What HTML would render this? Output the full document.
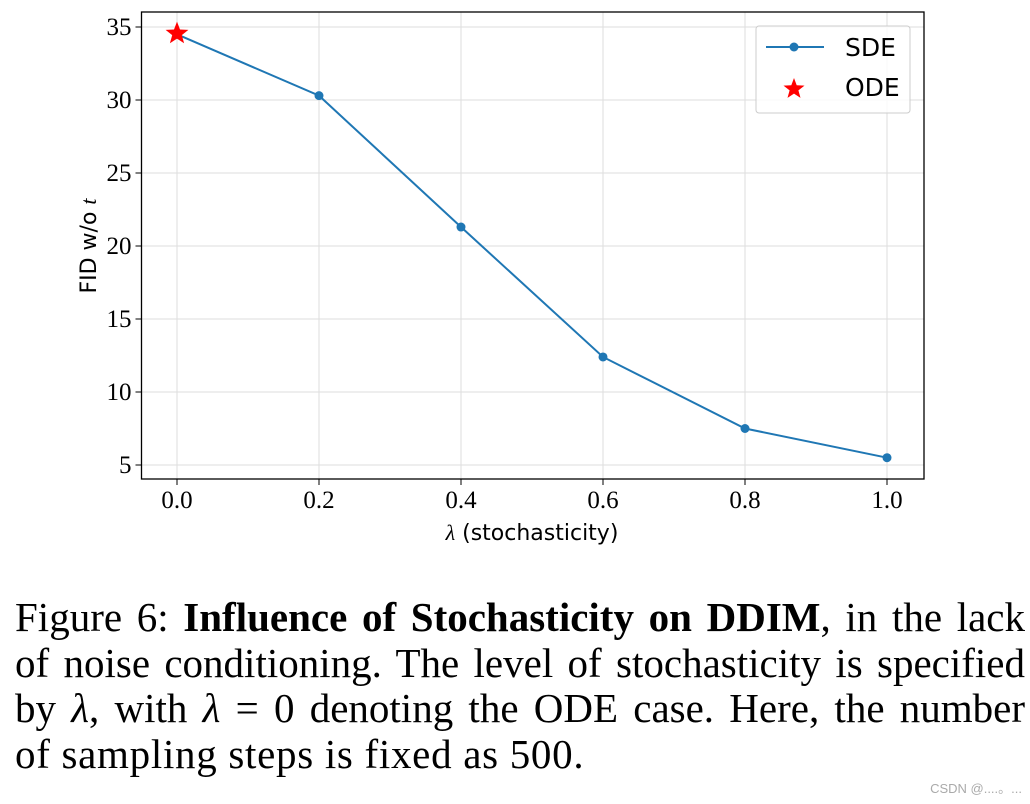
<!DOCTYPE html>
<html><head><meta charset="utf-8"><style>
body{margin:0;background:#fff;width:1030px;height:804px;overflow:hidden;position:relative}
#cap{position:absolute;left:15px;top:595px;width:1010px;font-family:"Liberation Serif",serif;font-size:41px;line-height:45.5px;color:#000}
#cap div{white-space:nowrap}
#cap .j{text-align:justify;text-align-last:justify}
#cap .last{letter-spacing:0.7px}
#wm{position:absolute;right:8px;top:778px;font-family:"Liberation Sans",sans-serif;font-size:13px;color:#aaa}
</style></head><body>
<svg width="1030" height="580" style="position:absolute;left:0;top:0">
<g id="grid"></g><g id="axes"></g><g id="series"></g>
<g>
<rect x="756" y="26" width="154" height="87" rx="3" fill="#fff" fill-opacity="0.85" stroke="#ccc"/>
<line x1="766" y1="47" x2="824" y2="47" stroke="#1f77b4" stroke-width="2"/>
<circle cx="794" cy="47" r="4.5" fill="#1f77b4"/>
<text x="845" y="56" font-family="DejaVu Sans,sans-serif" font-size="25">SDE</text>
<polygon id="lstar" fill="#f00"/>
<text x="845" y="96" font-family="DejaVu Sans,sans-serif" font-size="25">ODE</text>
</g>
<text transform="translate(96,246) rotate(-90)" text-anchor="middle" font-family="DejaVu Sans,sans-serif" font-size="22">FID w/o <tspan font-family="Liberation Serif,serif" font-style="italic">t</tspan></text>
<text x="532" y="540" text-anchor="middle" font-family="DejaVu Sans,sans-serif" font-size="22"><tspan font-family="Liberation Serif,serif" font-style="italic">λ</tspan> (stochasticity)</text>
</svg>
<div id="cap">
<div class="j">Figure 6: <b>Influence of Stochasticity on DDIM</b>, in the lack</div>
<div class="j">of noise conditioning. The level of stochasticity is specified</div>
<div class="j">by <i>λ</i>, with <i>λ</i> = 0 denoting the ODE case. Here, the number</div>
<div class="last">of sampling steps is fixed as 500.</div>
</div>
<div id="wm">CSDN @....。...</div>
<script>
const xValues=[0.0,0.2,0.4,0.6,0.8,1.0];
const sdeValues=[34.5,30.3,21.3,12.4,7.5,5.5];
const odeValue=[0.0,34.55];
const xTicks=[0.0,0.2,0.4,0.6,0.8,1.0];
const yTicks=[5,10,15,20,25,30,35];
const L=141.5,R=924,T=12,B=479;
const X=v=>177+v*710, Y=v=>465-(v-5)*14.6;
const NS='http://www.w3.org/2000/svg';
function mk(p,t,a){const e=document.createElementNS(NS,t);for(const k in a)e.setAttribute(k,a[k]);document.getElementById(p).appendChild(e);return e;}
xTicks.forEach(v=>{
 const g=mk('grid','line',{x1:X(v),x2:X(v),y1:T,y2:B,stroke:'#ddd','stroke-width':1});
 
 mk('axes','line',{x1:X(v),x2:X(v),y1:B,y2:B+6,stroke:'#000'});
 const t=mk('axes','text',{x:X(v),y:B+29,'text-anchor':'middle','font-family':'Liberation Serif,serif','font-size':25});
 t.textContent=v.toFixed(1);
 
});
yTicks.forEach(v=>{
 const g=mk('grid','line',{x1:L,x2:R,y1:Y(v),y2:Y(v),stroke:'#ddd','stroke-width':1});
 
 mk('axes','line',{x1:L-6,x2:L,y1:Y(v),y2:Y(v),stroke:'#000'});
 const t=mk('axes','text',{x:L-10,y:Y(v)+8,'text-anchor':'end','font-family':'Liberation Serif,serif','font-size':25});
 t.textContent=v;
 
});
const fr=mk('axes','rect',{x:L,y:T,width:R-L,height:B-T,fill:'none',stroke:'#000','stroke-width':1.3});

const pl=mk('series','polyline',{points:xValues.map((v,i)=>X(v)+','+Y(sdeValues[i])).join(' '),fill:'none',stroke:'#1f77b4','stroke-width':2});

xValues.forEach((v,i)=>{const c=mk('series','circle',{cx:X(v),cy:Y(sdeValues[i]),r:4.5,fill:'#1f77b4'});
 });
function star(cx,cy,r){let p=[];for(let i=0;i<10;i++){const a=-Math.PI/2+i*Math.PI/5,rr=i%2?r*0.42:r;p.push((cx+rr*Math.cos(a)).toFixed(1)+','+(cy+rr*Math.sin(a)).toFixed(1));}return p.join(' ');}
const s=mk('series','polygon',{points:star(X(odeValue[0]),Y(odeValue[1]),12),fill:'#f00'});

document.getElementById('lstar').setAttribute('points',star(794,89,11));
</script>
</body></html>
